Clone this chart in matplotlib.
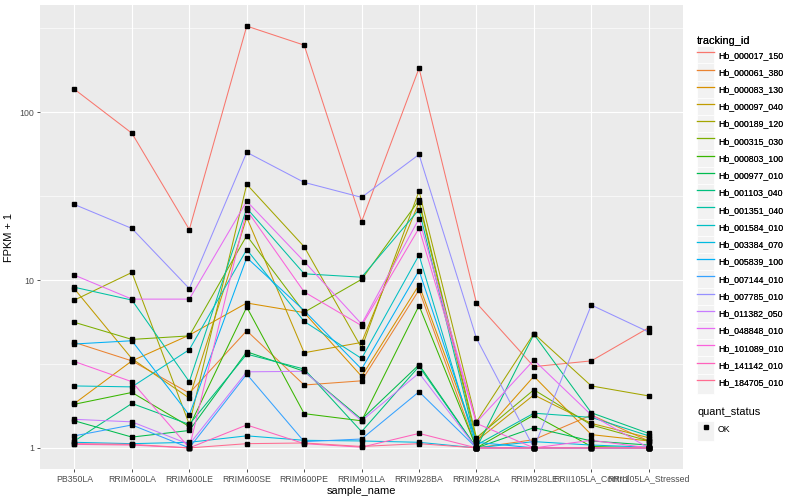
import matplotlib
matplotlib.use("Agg")
import matplotlib.pyplot as plt
from matplotlib.lines import Line2D
from matplotlib.patches import Rectangle
from matplotlib.legend_handler import HandlerLine2D
import numpy as np

plt.rcParams['font.family'] = ['Liberation Sans', 'DejaVu Sans']

samples = ["PB350LA", "RRIM600LA", "RRIM600LE", "RRIM600SE", "RRIM600PE", "RRIM901LA",
           "RRIM928BA", "RRIM928LA", "RRIM928LE", "RRII105LA_Control", "RRII105LA_Stressed"]

tracking_ids = ["Hb_000017_150", "Hb_000061_380", "Hb_000083_130", "Hb_000097_040",
                "Hb_000189_120", "Hb_000315_030", "Hb_000803_100", "Hb_000977_010",
                "Hb_001103_040", "Hb_001351_040", "Hb_001584_010", "Hb_003384_070",
                "Hb_005839_100", "Hb_007144_010", "Hb_007785_010", "Hb_011382_050",
                "Hb_048848_010", "Hb_101089_010", "Hb_141142_010", "Hb_184705_010"]

# ggplot hue palette, 20 levels
colors = ["#F8766D", "#EA8331", "#D89000", "#C09B00", "#A3A500", "#7CAE00", "#39B600",
          "#00BB4E", "#00BF7D", "#00C1A3", "#00BFC4", "#00BAE0", "#00B0F6", "#35A2FF",
          "#9590FF", "#C77CFF", "#E76BF3", "#FA62DB", "#FF62BC", "#FF6C91"]

# FPKM + 1 per sample
hb_000017_150 = [137, 75, 20, 326, 251, 22.3, 183, 7.3, 3.05, 3.3, 5.2]
hb_000061_380 = [4.25, 3.3, 2.12, 4.99, 2.37, 2.51, 8.73, 1.0, 1.12, 1.57, 1.10]
hb_000083_130 = [1.84, 3.3, 4.7, 7.3, 6.4, 2.67, 9.36, 1.1, 2.67, 1.2, 1.1]
hb_000097_040 = [8.86, 3.4, 1.98, 23.6, 3.69, 4.25, 29.1, 1.1, 2.07, 1.4, 1.15]
hb_000189_120 = [7.6, 11.1, 1.38, 37.2, 15.8, 3.94, 33.9, 1.43, 4.8, 2.34, 2.04]
hb_000315_030 = [5.6, 4.43, 4.65, 18.4, 6.43, 10.1, 29.9, 1.15, 2.22, 1.37, 1.1]
hb_000803_100 = [1.82, 2.14, 1.34, 6.9, 1.6, 1.45, 7.04, 1.0, 1.57, 1.02, 1.0]
hb_000977_010 = [1.45, 1.16, 1.27, 3.74, 2.86, 1.48, 3.13, 1.0, 1.32, 1.1, 1.04]
hb_001103_040 = [1.1, 1.84, 1.38, 3.62, 2.95, 1.25, 3.06, 1.0, 4.75, 1.62, 1.22]
hb_001351_040 = [9.06, 7.6, 2.48, 26.8, 10.9, 10.4, 26.3, 1.04, 1.61, 1.52, 1.18]
hb_001584_010 = [2.34, 2.31, 3.85, 15.2, 5.67, 3.41, 14.1, 1.0, 1.0, 1.0, 1.0]
hb_003384_070 = [1.08, 1.06, 1.08, 1.18, 1.11, 1.10, 1.08, 1.0, 1.09, 1.04, 1.01]
hb_005839_100 = [4.16, 4.35, 1.57, 13.6, 6.58, 2.95, 11.4, 1.08, 1.0, 1.0, 1.0]
hb_007144_010 = [1.18, 1.37, 1.0, 2.75, 1.09, 1.13, 2.16, 1.0, 1.0, 1.0, 1.0]
hb_007785_010 = [28.2, 20.3, 8.9, 57.7, 38.2, 31.1, 56, 4.5, 1.0, 7.1, 4.9]
hb_011382_050 = [1.48, 1.43, 1.05, 2.84, 2.86, 1.45, 2.79, 1.0, 1.0, 1.0, 1.0]
hb_048848_010 = [10.7, 7.7, 7.7, 29.5, 12.9, 5.47, 23.2, 1.42, 3.34, 1.57, 1.0]
hb_101089_010 = [3.27, 2.48, 1.0, 26.1, 8.5, 5.35, 20.4, 1.4, 1.0, 1.11, 1.0]
hb_141142_010 = [1.05, 1.04, 1.0, 1.37, 1.06, 1.01, 1.22, 1.0, 1.0, 1.0, 1.0]
hb_184705_010 = [1.06, 1.05, 1.0, 1.06, 1.07, 1.02, 1.06, 1.0, 1.0, 1.0, 1.0]

series = [hb_000017_150, hb_000061_380, hb_000083_130, hb_000097_040, hb_000189_120,
          hb_000315_030, hb_000803_100, hb_000977_010, hb_001103_040, hb_001351_040,
          hb_001584_010, hb_003384_070, hb_005839_100, hb_007144_010, hb_007785_010,
          hb_011382_050, hb_048848_010, hb_101089_010, hb_141142_010, hb_184705_010]


class KeyHandler(HandlerLine2D):
    # grey key background like ggplot legends
    def create_artists(self, legend, orig_handle, xdescent, ydescent, width, height, fontsize, trans):
        bg = Rectangle((-xdescent, -ydescent - 2), width, height + 2.5, facecolor="#F2F2F2",
                       edgecolor="white", lw=0.6, transform=trans)
        arts = super().create_artists(legend, orig_handle, xdescent, ydescent, width, height, fontsize, trans)
        return [bg] + list(arts)


fig = plt.figure(figsize=(8, 5), dpi=100)
ax = fig.add_axes([0.05, 0.062, 0.804, 0.928])
ax.set_facecolor("#EBEBEB")

x = np.arange(len(samples))
for vals, col in zip(series, colors):
    ax.plot(x, vals, color=col, lw=0.75, zorder=2)
for vals in series:
    ax.plot(x, vals, ls="none", marker="s", ms=2.4, color="black", zorder=3)

ax.set_yscale("log")
all_vals = np.log10(np.concatenate([np.array(s, dtype=float) for s in series]))
lo, hi = all_vals.min(), all_vals.max()
pad = 0.05 * (hi - lo)
ax.set_ylim(10 ** (lo - pad), 10 ** (hi + pad))
ax.set_xlim(-0.6, len(samples) - 0.4)

ax.set_yticks([1, 10, 100], labels=["1", "10", "100"])
ax.set_yticks([10 ** 0.5, 10 ** 1.5, 10 ** 2.5], minor=True)
ax.yaxis.set_minor_formatter(plt.NullFormatter())
ax.set_xticks(x, labels=samples)

ax.grid(True, which="major", color="white", lw=0.8)
ax.grid(True, which="minor", axis="y", color="white", lw=0.45)
ax.set_axisbelow(True)
for sp in ax.spines.values():
    sp.set_visible(False)
ax.tick_params(which="major", length=2.0, width=0.6, color="#333333",
               labelsize=6.3, labelcolor="#4D4D4D", pad=2)
ax.tick_params(which="minor", length=0)

ax.set_xlabel("sample_name", fontsize=7.9, labelpad=1.5)
ax.set_ylabel("FPKM + 1", fontsize=7.9, labelpad=4)

line_handles = [Line2D([], [], color=c, lw=0.9) for c in colors]
leg1 = fig.legend(line_handles, tracking_ids, title="tracking_id", loc="upper left",
                  bbox_to_anchor=(697 / 800, 1 - 36 / 500), frameon=False, fontsize=6.3,
                  title_fontsize=7.9, handlelength=1.95, handleheight=2.5, labelspacing=0.1,
                  handletextpad=0.45, borderpad=0, borderaxespad=0, alignment="left",
                  handler_map={Line2D: KeyHandler()})
fig.add_artist(leg1)

ok_handle = [Line2D([], [], ls="none", marker="s", ms=2.4, color="black")]
fig.legend(ok_handle, ["OK"], title="quant_status", loc="upper left",
           bbox_to_anchor=(697 / 800, 1 - 407 / 500), frameon=False, fontsize=6.3,
           title_fontsize=7.9, handlelength=1.95, handleheight=2.5, handletextpad=0.45,
           borderpad=0, borderaxespad=0, alignment="left",
           handler_map={Line2D: KeyHandler()})

fig.savefig("out.png", dpi=100)
